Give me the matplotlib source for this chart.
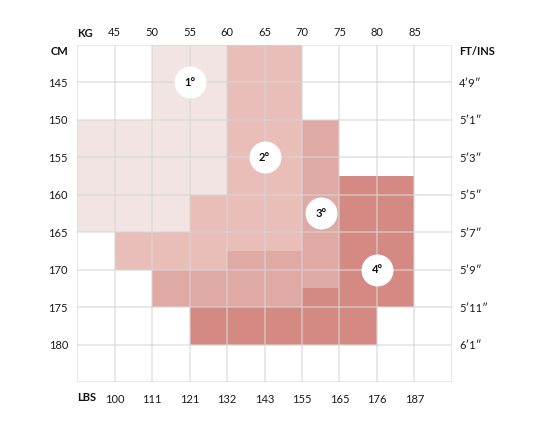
import matplotlib
matplotlib.use("Agg")
import matplotlib.pyplot as plt
import matplotlib.patches as patches

plt.rcParams['font.family'] = ['Lato', 'DejaVu Sans']

# axes values
kg_ticks = [45, 50, 55, 60, 65, 70, 75, 80, 85]
lbs_labels = ["100", "111", "121", "132", "143", "155", "165", "176", "187"]
cm_ticks = [145, 150, 155, 160, 165, 170, 175, 180]
ftin_labels = ["4′9″", "5′1″", "5′3″", "5′5″", "5′7″", "5′9″", "5′11″", "6′1″"]

# size areas as (kg_from, kg_to, cm_from, cm_to)
size1_cells = [(50, 60, 140, 150), (40, 60, 150, 160), (40, 55, 160, 165)]
size2_cells = [(60, 70, 140, 160), (55, 70, 160, 165), (45, 70, 165, 170)]
size3_cells = [(70, 75, 150, 172.5), (50, 70, 170, 175), (60, 70, 167.5, 170)]
size4_cells = [(75, 85, 157.5, 175), (70, 75, 172.5, 175), (55, 80, 175, 180)]
size_colors = ["#f1e4e3", "#e9bdb8", "#dfaaa6", "#d48a82"]

size_names = ["1°", "2°", "3°", "4°"]
size_kg = [55, 65, 72.5, 80]
size_cm = [145, 155, 162.5, 170]

fig = plt.figure(figsize=(5.33, 4.33), dpi=100)
ax = fig.add_axes([77 / 533, 51 / 433, 375 / 533, 337 / 433])

for cells, col in zip([size1_cells, size2_cells, size3_cells, size4_cells], size_colors):
    for (x0, x1, y0, y1) in cells:
        ax.add_patch(patches.Rectangle((x0, y0), x1 - x0, y1 - y0,
                                       facecolor=col, edgecolor='none', zorder=1))

ax.set_xlim(40, 90)
ax.set_ylim(185, 140)

# grid
grid_kw = dict(color='#d6d6d6', alpha=0.6, linewidth=1.3, zorder=2)
for v in range(40, 95, 5):
    ax.axvline(v, **grid_kw)
for v in range(140, 190, 5):
    ax.axhline(v, **grid_kw)
for s in ax.spines.values():
    s.set_visible(False)

ax.scatter(size_kg, size_cm, s=530, color='white', zorder=3, linewidths=0)
for name, x, y in zip(size_names, size_kg, size_cm):
    ax.text(x, y, name, ha='center', va='center', fontsize=8, fontweight='bold',
            color='#111111', zorder=4)

lab_color = '#1a1a1a'
ax.set_xticks(kg_ticks)
ax.set_xticklabels(lbs_labels)
ax.set_yticks(cm_ticks)
ax.set_yticklabels([str(c) for c in cm_ticks])
ax.tick_params(length=0, labelsize=8, colors=lab_color)
ax.tick_params(axis='x', pad=8.5)
ax.tick_params(axis='y', pad=6.5)

top = ax.secondary_xaxis('top')
top.set_xticks(kg_ticks)
top.set_xticklabels([str(k) for k in kg_ticks])
top.tick_params(length=0, labelsize=8, colors=lab_color, pad=5)
top.spines['top'].set_visible(False)

right = ax.secondary_yaxis('right')
right.set_yticks(cm_ticks)
right.set_yticklabels(ftin_labels)
right.tick_params(length=0, labelsize=8, colors=lab_color, pad=5)
right.spines['right'].set_visible(False)

hdr = dict(fontsize=8, fontweight='bold', color='#111111', xycoords='axes fraction',
           textcoords='offset points')
ax.annotate("KG", (0, 1), xytext=(0, 8.2), ha='left', va='center', **hdr)
ax.annotate("LBS", (0, 0), xytext=(0, -11.5), ha='left', va='center', **hdr)
ax.annotate("CM", (0, 1), xytext=(-6.5, -5), ha='right', va='center', **hdr)
ax.annotate("FT/INS", (1, 1), xytext=(5, -5), ha='left', va='center', **hdr)

fig.savefig("out.png", dpi=100, facecolor='white')
